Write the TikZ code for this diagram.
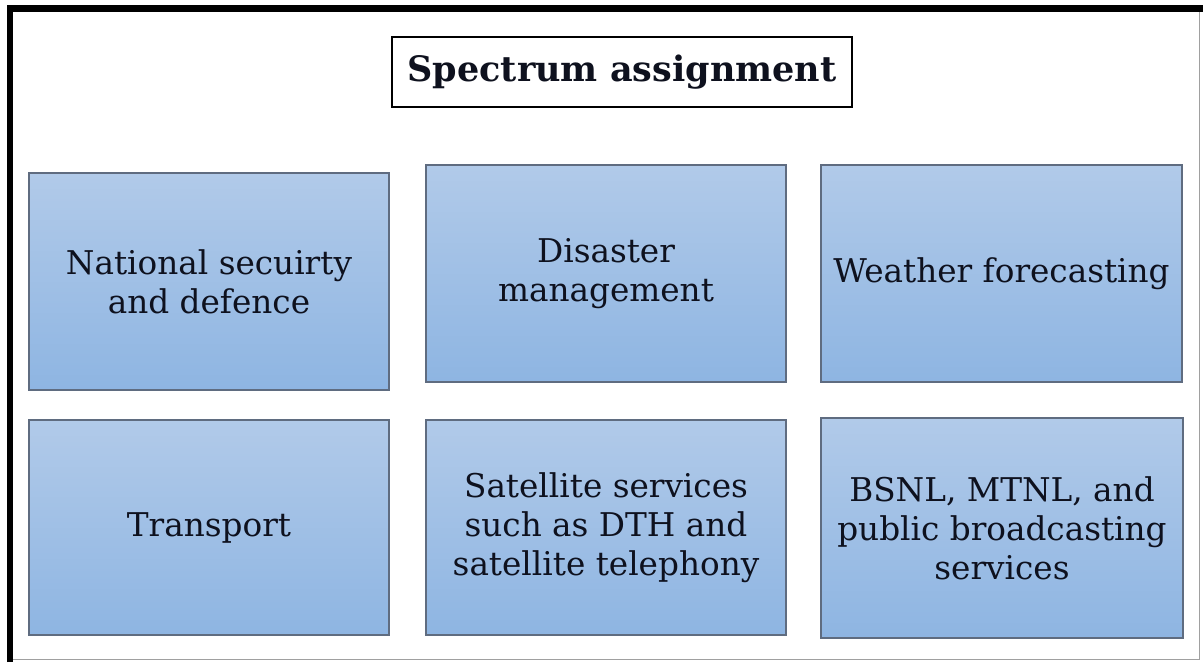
\documentclass[tikz,border=0pt]{standalone}
\usepackage{fontspec}
\setmainfont{DejaVu Serif}
\definecolor{boxtop}{RGB}{177,202,233}
\definecolor{boxbot}{RGB}{142,181,226}
\definecolor{boxline}{RGB}{95,108,128}
\definecolor{txt}{RGB}{14,17,30}
\definecolor{framegray}{RGB}{160,160,160}
\tikzset{
  catbox/.style={draw=boxline, line width=1.2pt, top color=boxtop, bottom color=boxbot,
    inner sep=0pt, align=center, text=txt, font=\fontsize{32.7}{39}\selectfont},
  titlebox/.style={draw=black, line width=1.5pt, fill=white, inner sep=0pt,
    minimum width=460pt, minimum height=70pt, text=txt, font=\fontsize{35}{40}\selectfont\bfseries}
}
\begin{document}
\begin{tikzpicture}[x=1pt,y=-1pt]
\useasboundingbox (0,0) rectangle (1203,662);
% outer frame
\draw[line width=6.5pt, line join=miter] (10,662) -- (10,8.5) -- (1203,8.5);
\draw[framegray, line width=1.5pt] (13,659.5) -- (1199.5,659.5) -- (1199.5,12);
% title
\node[titlebox] (title) at (622,72) {Spectrum assignment};
% boxes
\node[catbox, minimum width=360pt, minimum height=217pt] (b1) at (209,281.5) {National secuirty\\and defence};
\node[catbox, minimum width=360pt, minimum height=217pt] (b2) at (606,273.5) {Disaster\\management};
\node[catbox, minimum width=361pt, minimum height=217pt] (b3) at (1001.5,273.5) {Weather forecasting};
\node[catbox, minimum width=360pt, minimum height=215pt] (b4) at (209,527.5) {Transport};
\node[catbox, minimum width=360pt, minimum height=215pt] (b5) at (606,527.5) {Satellite services\\such as DTH and\\satellite telephony};
\node[catbox, minimum width=362pt, minimum height=220pt] (b6) at (1002,528) {BSNL, MTNL, and\\public broadcasting\\services};
\end{tikzpicture}
\end{document}
